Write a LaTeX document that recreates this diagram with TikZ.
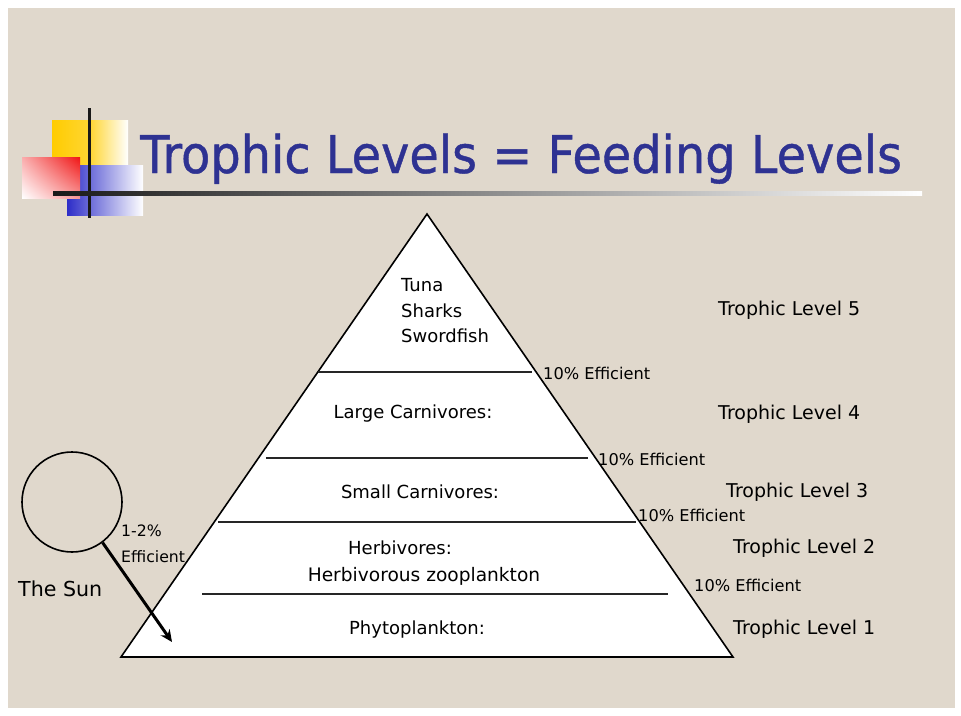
\documentclass[tikz,border=0pt]{standalone}
\usepackage{fontspec}
\setmainfont{DejaVu Sans}
\newfontfamily\titlefont[FakeStretch=0.92,FakeBold=0.8]{DejaVu Sans}
\usetikzlibrary{arrows.meta,shadings}
\definecolor{paper}{RGB}{224,216,204}
\definecolor{titleblue}{RGB}{46,50,146}
\definecolor{logoyellow}{RGB}{255,204,0}
\definecolor{logoblue}{RGB}{45,45,200}
\definecolor{logored}{RGB}{240,20,20}
\tikzset{
  lbl/.style={inner sep=0pt, font=\fontsize{18}{20}\selectfont, text=black},
  effic/.style={inner sep=0pt, anchor=west, font=\fontsize{16.2}{18}\selectfont},
  levellbl/.style={inner sep=0pt, anchor=west, font=\fontsize{19}{20}\selectfont},
  tierline/.style={line width=2pt, black!85},
  sunarrow/.style={line width=3pt, -{Stealth[length=12pt,width=11pt]}},
}
\begin{document}
\begin{tikzpicture}[x=1pt,y=-1pt]
\useasboundingbox (0,0) rectangle (961,715);
\fill[white] (0,0) rectangle (961,715);
\fill[paper] (8,8) rectangle (955,708);

% logo squares
\shade[left color=logoyellow, right color=white, middle color=logoyellow!80!white] (52,120) rectangle (128,166);
\shade[left color=logoblue, right color=white] (67,165) rectangle (143,215);
\shade[upper right=logored, upper left=logored!35!white, lower right=logored!45!white, lower left=white] (22,157) rectangle (80,198);
\draw[line width=3pt, black!90] (89,108) -- (89,218);
\shade[left color=black!90, right color=white] (53,191) rectangle (922,195);

% title
\node[anchor=base west, inner sep=0pt, text=titleblue, font=\titlefont\fontsize{52}{56}\selectfont] (title) at (140,173) {Trophic Levels = Feeding Levels};

% pyramid
\coordinate (apex) at (427,214);
\coordinate (bl) at (121,657);
\coordinate (br) at (733,657);
\filldraw[fill=white, draw=black, line width=1.6pt] (apex) -- (bl) -- (br) -- cycle;
\coordinate (t1a) at (318,372); \coordinate (t1b) at (532,372);
\coordinate (t2a) at (266,458); \coordinate (t2b) at (588,458);
\coordinate (t3a) at (218,522); \coordinate (t3b) at (636,522);
\coordinate (t4a) at (202,594); \coordinate (t4b) at (668,594);
\draw[tierline] (t1a) -- (t1b);
\draw[tierline] (t2a) -- (t2b);
\draw[tierline] (t3a) -- (t3b);
\draw[tierline] (t4a) -- (t4b);

% tier contents
\node[lbl, anchor=west, align=left] (top) at (401,311) {Tuna\\[5.5pt]Sharks\\[5.5pt]Swordfish};
\node[lbl] (large) at (413,414) {Large Carnivores:};
\node[lbl] (small) at (420,492) {Small Carnivores:};
\node[lbl] (herb) at (400,548) {Herbivores:};
\node[lbl, font=\fontsize{18.6}{20}\selectfont] (zoo) at (424,576) {Herbivorous zooplankton};
\node[lbl] (phyto) at (417,630) {Phytoplankton:};

% efficiency labels
\node[effic] (e1) at (543,373) {10\% Efficient};
\node[effic] (e2) at (598,459) {10\% Efficient};
\node[effic] (e3) at (638,515) {10\% Efficient};
\node[effic] (e4) at (694,585) {10\% Efficient};

% trophic levels
\node[levellbl] (L5) at (718,310) {Trophic Level 5};
\node[levellbl] (L4) at (718,414) {Trophic Level 4};
\node[levellbl] (L3) at (726,492) {Trophic Level 3};
\node[levellbl] (L2) at (733,548) {Trophic Level 2};
\node[levellbl] (L1) at (733,629) {Trophic Level 1};

% the sun
\node[circle, draw=black, line width=1.6pt, minimum size=100pt, inner sep=0pt] (sun) at (72,502) {};
\node[effic, align=left, font=\fontsize{15.7}{26}\selectfont] (sunpct) at (121,544) {1-2\%\\Efficient};
\node[inner sep=0pt, anchor=west, font=\fontsize{20.6}{22}\selectfont] (sunname) at (18,589) {The Sun};
\coordinate (sunhit) at (172,642);
\draw[sunarrow] (sun.-53) -- (sunhit);
\end{tikzpicture}
\end{document}
